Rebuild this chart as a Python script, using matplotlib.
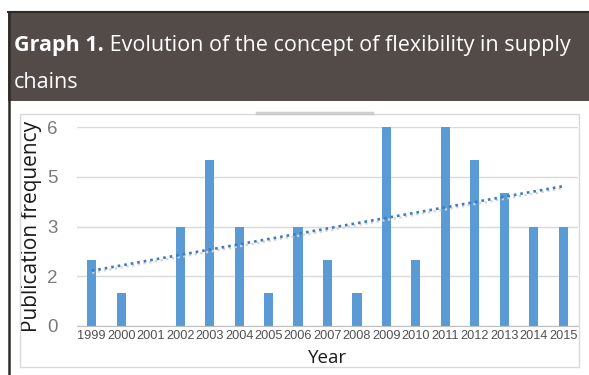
import matplotlib.pyplot as plt
import matplotlib.transforms as mtransforms
import numpy as np
from matplotlib.patches import Rectangle
from matplotlib.lines import Line2D
from matplotlib.text import Annotation

years = ['1999', '2000', '2001', '2002', '2003', '2004', '2005', '2006', '2007',
         '2008', '2009', '2010', '2011', '2012', '2013', '2014', '2015']
counts = [2, 1, 0, 3, 5, 3, 1, 3, 2, 1, 6, 2, 6, 5, 4, 3, 3]
ytick_pos = [0, 1.5, 3, 4.5, 6]
ytick_lab = ['0', '2', '3', '5', '6']

W, H = 589, 375
fig = plt.figure(figsize=(W / 100, H / 100), dpi=100)
fig.patch.set_facecolor('white')

def fx(px):
    return px / W

def fy(py):
    return 1 - py / H

# header box
fig.add_artist(Rectangle((fx(8), fy(101)), 1 - fx(8), fy(12) - fy(101),
                         transform=fig.transFigure, facecolor='#534b48',
                         edgecolor='none', zorder=0))
fig.add_artist(Line2D([fx(8), 1], [fy(12), fy(12)], transform=fig.transFigure,
                      color='#2e2a28', lw=1.5))
fig.add_artist(Line2D([fx(8.5), fx(8.5)], [fy(12), 0], transform=fig.transFigure,
                      color='#2e2a28', lw=1.8))

t1 = fig.text(fx(14), fy(51), 'Graph 1.', color='white', fontsize=15.5,
              fontweight='bold', family='Open Sans', va='baseline')
ann = Annotation(' Evolution of the concept of flexibility in supply', xy=(1, 0),
                 xycoords=t1, va='bottom', ha='left', color='white',
                 fontsize=15.5, family='Open Sans')
fig.add_artist(ann)
fig.text(fx(14), fy(88), 'chains', color='white', fontsize=15.5,
         family='Open Sans', va='baseline')

# chart area box
fig.add_artist(Rectangle((fx(20), fy(367)), fx(579) - fx(20), fy(114) - fy(367),
                         transform=fig.transFigure, facecolor='none',
                         edgecolor='#d9d9d9', lw=1))
fig.add_artist(Line2D([fx(257), fx(372)], [fy(113), fy(113)], transform=fig.transFigure,
                      color='#c4c4c4', lw=2.5, alpha=0.8))

ax = fig.add_axes([fx(77), fy(326), fx(578) - fx(77), fy(127) - fy(326)])
x = np.arange(len(years))
ax.bar(x, counts, width=0.31, color='#5b9bd5', zorder=2)

# linear trend line with a faint shadow
k, b = np.polyfit(x, counts, 1)
shadow = ax.transData + mtransforms.ScaledTranslation(0.5 / 100, -2 / 100, fig.dpi_scale_trans)
ax.plot(x, k * x + b, color='#d4d4d4', lw=1.6, ls=(0, (1, 1.6)), zorder=3,
        transform=shadow)
ax.plot(x, k * x + b, color='#3b7cc6', lw=1.9, ls=(0, (1, 1.5)), zorder=4)

ax.set_xlim(-0.5, 16.5)
ax.set_ylim(0, 6)
ax.set_yticks(ytick_pos)
ax.set_yticklabels(ytick_lab)
ax.set_xticks(x)
ax.set_xticklabels(years)
ax.yaxis.grid(True, color='#d9d9d9', lw=1, zorder=0)
ax.set_axisbelow(True)
for s in ['top', 'right', 'left']:
    ax.spines[s].set_visible(False)
ax.spines['bottom'].set_color('#bfbfbf')
ax.tick_params(length=0)
ax.tick_params(axis='y', labelsize=13.5, labelcolor='#7a7a7a', pad=14)
ax.tick_params(axis='x', labelsize=9.2, labelcolor='#505050', pad=3)
for lab in ax.get_xticklabels() + ax.get_yticklabels():
    lab.set_family('Liberation Sans')

ax.set_ylabel('Publication frequency', fontsize=15, family='Open Sans',
              color='#1a1a1a', labelpad=4)
ax.set_xlabel('Year', fontsize=13.5, family='Open Sans', color='#1a1a1a', labelpad=5)

fig.savefig('out.png', dpi=100)
